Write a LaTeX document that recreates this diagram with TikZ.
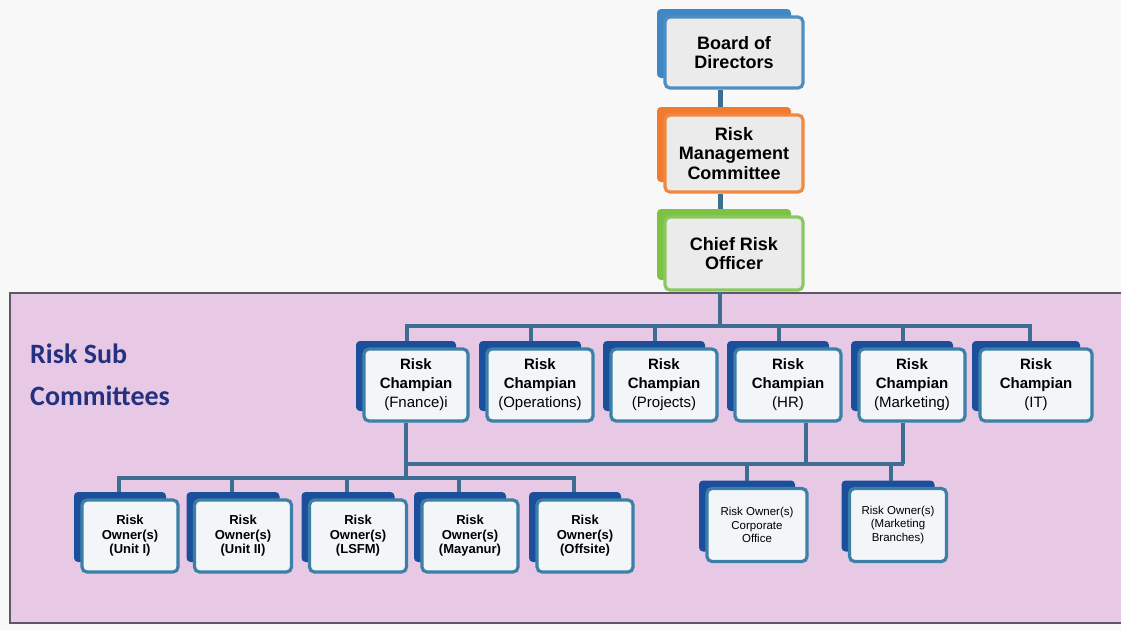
\documentclass[tikz,border=0pt]{standalone}
\usepackage{fontspec}
\setmainfont{Liberation Sans}
\newfontfamily\calib{Carlito}
\usetikzlibrary{calc}
\definecolor{bgc}{HTML}{F8F8F8}
\definecolor{pinkc}{HTML}{E7C9E5}
\definecolor{pinkline}{HTML}{5A5A66}
\definecolor{navyback}{HTML}{1B4F9C}
\definecolor{blueedge}{HTML}{3C80A8}
\definecolor{frontfill}{HTML}{F3F6F9}
\definecolor{bodback}{HTML}{3F88C5}
\definecolor{bodedge}{HTML}{4C8FC4}
\definecolor{rmcback}{HTML}{F07A2E}
\definecolor{rmcedge}{HTML}{F4873F}
\definecolor{croback}{HTML}{7DC242}
\definecolor{croedge}{HTML}{8CC862}
\definecolor{grayfill}{HTML}{EBEBEB}
\definecolor{connc}{HTML}{3D6E92}
\definecolor{subtext}{HTML}{243180}
\pgfdeclarelayer{back}
\pgfdeclarelayer{lines}
\pgfsetlayers{back,lines,main}
% #1 name, #2 cx, #3 cy, #4 w, #5 h, #6 back colour, #7 style, #8 text
\newcommand\dbx[8]{%
  \fill[#6, rounded corners=4pt] ({#2-#4/2-8},{#3-#5/2-8}) rectangle ({#2+#4/2-12},{#3+#5/2-10});
  \node[#7, minimum width=#4pt, minimum height=#5pt] (#1) at (#2,#3) {#8};
}
\begin{document}
\begin{tikzpicture}[x=1pt,y=-1pt,
  frontbox/.style={draw, line width=3.2pt, rounded corners=5pt, align=center, inner sep=0pt},
  topbox/.style={frontbox, fill=grayfill, font=\bfseries\fontsize{18}{19.5}\selectfont},
  bodbox/.style={topbox, draw=bodedge},
  rmcbox/.style={topbox, draw=rmcedge},
  crobox/.style={topbox, draw=croedge},
  champbox/.style={frontbox, draw=blueedge, fill=frontfill, font=\fontsize{15}{19}\selectfont},
  ownerbox/.style={frontbox, draw=blueedge, fill=frontfill, font=\bfseries\fontsize{13}{14.5}\selectfont},
  corpbox/.style={frontbox, draw=blueedge, fill=frontfill, font=\fontsize{11.5}{13.5}\selectfont},
  conn/.style={draw=connc, line width=4pt},
  topconn/.style={draw=connc, line width=5pt}]
\useasboundingbox (0,0) rectangle (1121,630);
\begin{pgfonlayer}{back}
  \fill[bgc] (0,0) rectangle (1121,630);
  \fill[pinkc] (10,293) rectangle (1121,623);
  \draw[pinkline, line width=1.5pt] (1121,293) -- (10,293) -- (10,623) -- (1121,623);
\end{pgfonlayer}
\node[anchor=base west, text=subtext, font=\calib\bfseries\fontsize{28}{42}\selectfont, align=left, inner sep=0pt] (sub) at (30,405) {Risk Sub\\Committees};

% top column
\dbx{bod}{734}{52.5}{138}{71}{bodback}{bodbox}{Board of\\Directors}
\dbx{rmc}{734}{153.5}{138}{77}{rmcback}{rmcbox}{Risk\\Management\\Committee}
\dbx{cro}{734}{253.5}{138}{73}{croback}{crobox}{Chief Risk\\Officer}

% champions
\dbx{fin}{416}{385}{104}{72}{navyback}{champbox}{\textbf{Risk}\\\textbf{Champian}\\(Fnance)i}
\dbx{ops}{540}{385}{106}{72}{navyback}{champbox}{\textbf{Risk}\\\textbf{Champian}\\(Operations)}
\dbx{prj}{664}{385}{106}{72}{navyback}{champbox}{\textbf{Risk}\\\textbf{Champian}\\(Projects)}
\dbx{hr}{788}{385}{106}{72}{navyback}{champbox}{\textbf{Risk}\\\textbf{Champian}\\(HR)}
\dbx{mkt}{912}{385}{106}{72}{navyback}{champbox}{\textbf{Risk}\\\textbf{Champian}\\(Marketing)}
\dbx{it}{1036}{385}{112}{72}{navyback}{champbox}{\textbf{Risk}\\\textbf{Champian}\\(IT)}

% owners
\dbx{u1}{130}{536}{96}{72}{navyback}{ownerbox}{Risk\\Owner(s)\\(Unit I)}
\dbx{u2}{243}{536}{97}{72}{navyback}{ownerbox}{Risk\\Owner(s)\\(Unit II)}
\dbx{lsfm}{358}{536}{97}{72}{navyback}{ownerbox}{Risk\\Owner(s)\\(LSFM)}
\dbx{may}{470}{536}{96}{72}{navyback}{ownerbox}{Risk\\Owner(s)\\(Mayanur)}
\dbx{off}{585}{536}{96}{72}{navyback}{ownerbox}{Risk\\Owner(s)\\(Offsite)}
\dbx{corp}{757}{525}{100}{73}{navyback}{corpbox}{Risk Owner(s)\\Corporate\\Office}
\dbx{br}{898}{525}{97}{73}{navyback}{corpbox}{Risk Owner(s)\\(Marketing\\Branches)}

% connector coordinates
\coordinate (busA) at (720,326);
\coordinate (busB) at (406,464);
\coordinate (busC) at (406,478);
\coordinate (bE) at (904,464);
\coordinate (tfin) at ($(fin.north)+(-9,0)$);
\coordinate (tit) at ($(it.north)+(-6,0)$);
\coordinate (tu1) at ($(u1.north)+(-11,0)$);
\coordinate (toff) at ($(off.north)+(-11,0)$);
\coordinate (hb) at ($(hr.south)+(18,0)$);
\coordinate (mb) at ($(mkt.south)+(-9,0)$);
\coordinate (cb) at ($(corp.north)+(-10,0)$);
\coordinate (bb) at ($(br.north)+(-7,0)$);
\begin{pgfonlayer}{lines}
  \draw[topconn] (bod.south -| busA) -- (rmc.north -| busA);
  \draw[topconn] (rmc.south -| busA) -- (cro.north -| busA);
  \draw[conn] (cro.south -| busA) -- (busA);
  % champion bus
  \draw[conn] (tfin) -- (tfin |- busA) -- (tit |- busA) -- (tit);
  \foreach \n in {ops,prj,hr,mkt}{
    \coordinate (t\n) at ($(\n.north)+(-9,0)$);
    \draw[conn] (t\n) -- (t\n |- busA);
  }
  % finance down to owners
  \draw[conn] (fin.south -| busC) -- (busC);
  \draw[conn] (busB) -- (bE);
  \draw[conn] (hb) -- (hb |- busB);
  \draw[conn] (mb) -- (mb |- busB);
  \draw[conn] (cb) -- (cb |- busB);
  \draw[conn] (bb) -- (bb |- busB);
  % owner bus
  \draw[conn] (tu1) -- (tu1 |- busC) -- (toff |- busC) -- (toff);
  \foreach \n in {u2,lsfm,may}{
    \coordinate (t\n) at ($(\n.north)+(-11,0)$);
    \draw[conn] (t\n) -- (t\n |- busC);
  }
\end{pgfonlayer}
\end{tikzpicture}
\end{document}
